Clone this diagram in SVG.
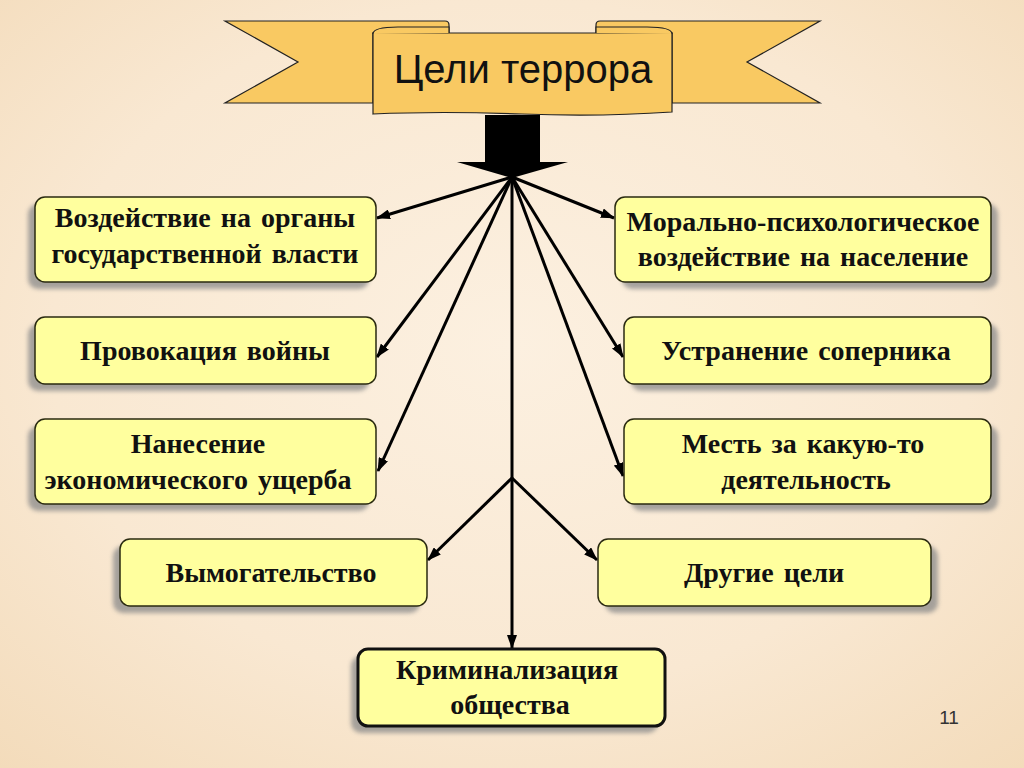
<svg xmlns="http://www.w3.org/2000/svg" width="1024" height="768" viewBox="0 0 1024 768">
<defs>
<radialGradient id="bg" cx="50%" cy="45%" r="75%">
<stop offset="0" stop-color="#FCF0E0"/>
<stop offset="0.6" stop-color="#F9E8D2"/>
<stop offset="1" stop-color="#F3DBBA"/>
</radialGradient>
<filter id="blur" x="-10%" y="-10%" width="120%" height="130%"><feGaussianBlur stdDeviation="2"/></filter>
<marker id="ah" viewBox="0 0 14 10" refX="13" refY="5" markerWidth="14" markerHeight="10" markerUnits="userSpaceOnUse" orient="auto">
<path d="M0,0 L14,5 L0,10 Z" fill="#000"/>
</marker>
<style>
.box{fill:#FFFF9E;stroke:#2a2a10;stroke-width:1.5}
.boxb{fill:#FFFF9E;stroke:#111;stroke-width:3}
.sh{fill:#8a8a8a;opacity:0.75;filter:url(#blur)}
.t{font-family:"Liberation Serif","Times New Roman",serif;font-weight:bold;font-size:28px;fill:#111;text-anchor:middle;word-spacing:3px}
.ban{fill:#F9C962;stroke:#222;stroke-width:1.2}
.c{stroke:#000;stroke-width:3;fill:none;marker-end:url(#ah)}
</style>
</defs>
<rect width="1024" height="768" fill="url(#bg)"/>

<g id="banner">
<path class="ban" d="M225,21 L445,21 Q449,21 449,25 L449,33 L373,33 L373,103 L225,103 L298,62 Z"/>
<path class="ban" d="M820,21 L600,21 Q596,21 596,25 L596,33 L672,33 L672,103 L820,103 L747,62 Z"/>
<path class="ban" d="M373,33 L672,33 L672,112 Q600,117 522,114 Q440,111 373,114 Z"/>
<path class="ban" d="M373,34 Q373,27 398,27 L449,27 L449,33"/>
<path class="ban" d="M672,34 Q672,27 647,27 L596,27 L596,33"/>
<text x="523" y="83" font-family="'Liberation Sans',Arial,sans-serif" font-size="40" text-anchor="middle" fill="#111">Цели террора</text>
</g>

<g id="bigarrow">
<path d="M485,115 L540,115 L540,162 L568,162 L512,178 L457,162 L485,162 Z" fill="#000"/>
</g>

<g id="connectors">
<line class="c" x1="512" y1="177" x2="377" y2="218"/>
<line class="c" x1="512" y1="177" x2="377" y2="357"/>
<line class="c" x1="512" y1="177" x2="378" y2="471"/>
<line class="c" x1="512" y1="177" x2="614" y2="218"/>
<line class="c" x1="512" y1="177" x2="623" y2="357"/>
<line class="c" x1="512" y1="177" x2="623" y2="476"/>
<line class="c" x1="512" y1="177" x2="512" y2="648"/>
<line class="c" x1="512" y1="478" x2="428" y2="560"/>
<line class="c" x1="512" y1="478" x2="597" y2="560"/>
</g>

<g id="n1">
<rect class="sh" x="28" y="204" width="341" height="85" rx="10"/>
<rect class="box" x="35" y="197" width="341" height="85" rx="10"/>
<text class="t" x="205" y="227">Воздействие на органы</text>
<text class="t" x="205" y="263">государственной власти</text>
</g>
<g id="n2">
<rect class="sh" x="28" y="324" width="341" height="67" rx="10"/>
<rect class="box" x="35" y="317" width="341" height="67" rx="10"/>
<text class="t" x="205" y="360">Провокация войны</text>
</g>
<g id="n3">
<rect class="sh" x="28" y="426" width="341" height="85" rx="10"/>
<rect class="box" x="35" y="419" width="341" height="85" rx="10"/>
<text class="t" x="198" y="453">Нанесение</text>
<text class="t" x="198" y="489">экономического ущерба</text>
</g>
<g id="n4">
<rect class="sh" x="113" y="546" width="307" height="67" rx="10"/>
<rect class="box" x="120" y="539" width="307" height="67" rx="10"/>
<text class="t" x="271" y="582">Вымогательство</text>
</g>
<g id="n5">
<rect class="sh" x="351" y="656" width="307" height="77" rx="10"/>
<rect class="boxb" x="358" y="649" width="307" height="77" rx="10"/>
<text class="t" x="507" y="679">Криминализация</text>
<text class="t" x="510" y="714">общества</text>
</g>
<g id="n6">
<rect class="sh" x="622" y="204" width="376" height="85" rx="10"/>
<rect class="box" x="615" y="197" width="376" height="85" rx="10"/>
<text class="t" x="803" y="231">Морально-психологическое</text>
<text class="t" x="803" y="266">воздействие на население</text>
</g>
<g id="n7">
<rect class="sh" x="631" y="324" width="367" height="67" rx="10"/>
<rect class="box" x="624" y="317" width="367" height="67" rx="10"/>
<text class="t" x="806" y="360">Устранение соперника</text>
</g>
<g id="n8">
<rect class="sh" x="631" y="426" width="367" height="85" rx="10"/>
<rect class="box" x="624" y="419" width="367" height="85" rx="10"/>
<text class="t" x="803" y="453">Месть за какую-то</text>
<text class="t" x="806" y="489">деятельность</text>
</g>
<g id="n9">
<rect class="sh" x="605" y="546" width="333" height="67" rx="10"/>
<rect class="box" x="598" y="539" width="333" height="67" rx="10"/>
<text class="t" x="764" y="582">Другие цели</text>
</g>

<text x="949" y="724" font-family="'Liberation Sans',Arial,sans-serif" font-size="19" text-anchor="middle" fill="#333">11</text>
</svg>
